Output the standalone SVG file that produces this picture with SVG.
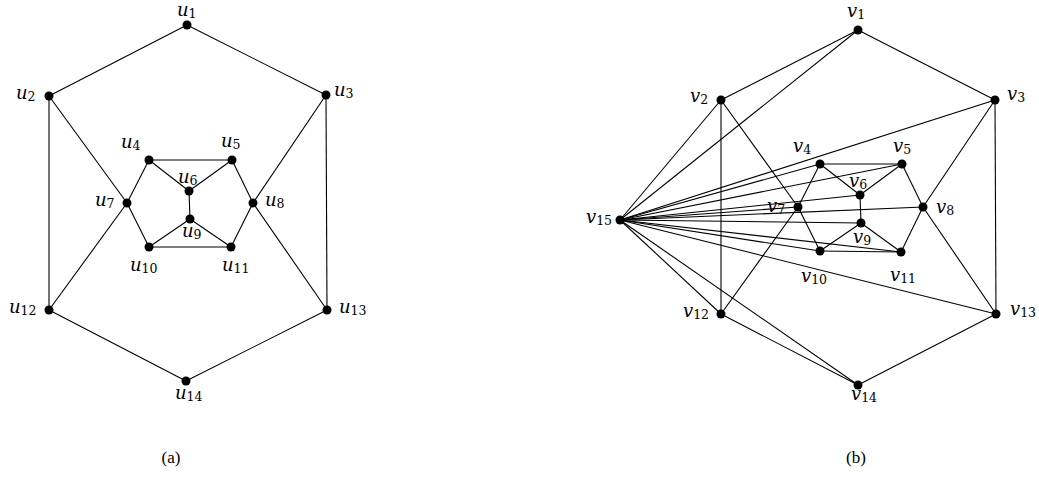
<svg xmlns="http://www.w3.org/2000/svg" width="1039" height="478" viewBox="0 0 1039 478">
<style>
.e line{stroke:#000;stroke-width:1.1;fill:none}
.n circle{fill:#000}
.n text{font-family:"DejaVu Serif","Liberation Serif",serif;font-style:italic;font-size:18px;fill:#000}
.n text tspan{font-style:normal;font-size:12.5px}
.cap{font-family:"Liberation Serif",serif;font-size:17px;fill:#000}
</style>
<rect width="1039" height="478" fill="#fff"/>
<g id="connectors-a" class="e">
<line x1="187" y1="25" x2="49" y2="96"/>
<line x1="187" y1="25" x2="326" y2="95"/>
<line x1="49" y1="96" x2="49" y2="310"/>
<line x1="49" y1="96" x2="127" y2="203"/>
<line x1="326" y1="95" x2="327" y2="310"/>
<line x1="326" y1="95" x2="253" y2="203"/>
<line x1="127" y1="203" x2="149" y2="160"/>
<line x1="127" y1="203" x2="149" y2="247"/>
<line x1="127" y1="203" x2="49" y2="310"/>
<line x1="253" y1="203" x2="232" y2="160"/>
<line x1="253" y1="203" x2="231" y2="247"/>
<line x1="253" y1="203" x2="327" y2="310"/>
<line x1="149" y1="160" x2="232" y2="160"/>
<line x1="149" y1="160" x2="189" y2="191"/>
<line x1="232" y1="160" x2="189" y2="191"/>
<line x1="189" y1="191" x2="190" y2="219"/>
<line x1="190" y1="219" x2="149" y2="247"/>
<line x1="190" y1="219" x2="231" y2="247"/>
<line x1="149" y1="247" x2="231" y2="247"/>
<line x1="49" y1="310" x2="186" y2="381"/>
<line x1="327" y1="310" x2="186" y2="381"/>
</g>
<g id="connectors-b" class="e">
<line x1="858" y1="30" x2="721" y2="100"/>
<line x1="858" y1="30" x2="995" y2="100"/>
<line x1="721" y1="100" x2="721" y2="314"/>
<line x1="721" y1="100" x2="798" y2="207"/>
<line x1="995" y1="100" x2="996" y2="314"/>
<line x1="995" y1="100" x2="923" y2="207"/>
<line x1="798" y1="207" x2="820" y2="164"/>
<line x1="798" y1="207" x2="820" y2="251"/>
<line x1="798" y1="207" x2="721" y2="314"/>
<line x1="923" y1="207" x2="902" y2="164"/>
<line x1="923" y1="207" x2="901" y2="252"/>
<line x1="923" y1="207" x2="996" y2="314"/>
<line x1="820" y1="164" x2="902" y2="164"/>
<line x1="820" y1="164" x2="860" y2="195"/>
<line x1="902" y1="164" x2="860" y2="195"/>
<line x1="860" y1="195" x2="861" y2="223"/>
<line x1="861" y1="223" x2="820" y2="251"/>
<line x1="861" y1="223" x2="901" y2="252"/>
<line x1="820" y1="251" x2="901" y2="252"/>
<line x1="721" y1="314" x2="858" y2="385"/>
<line x1="996" y1="314" x2="858" y2="385"/>
<line x1="620" y1="220" x2="858" y2="30"/>
<line x1="620" y1="220" x2="721" y2="100"/>
<line x1="620" y1="220" x2="995" y2="100"/>
<line x1="620" y1="220" x2="820" y2="164"/>
<line x1="620" y1="220" x2="902" y2="164"/>
<line x1="620" y1="220" x2="860" y2="195"/>
<line x1="620" y1="220" x2="798" y2="207"/>
<line x1="620" y1="220" x2="923" y2="207"/>
<line x1="620" y1="220" x2="861" y2="223"/>
<line x1="620" y1="220" x2="820" y2="251"/>
<line x1="620" y1="220" x2="901" y2="252"/>
<line x1="620" y1="220" x2="996" y2="314"/>
<line x1="620" y1="220" x2="721" y2="314"/>
<line x1="620" y1="220" x2="858" y2="385"/>
</g>
<g class="n">
<g id="u1"><circle cx="187" cy="25" r="4.5"/><text x="177" y="16">u<tspan dy="2">1</tspan></text></g>
<g id="u2"><circle cx="49" cy="96" r="4.5"/><text x="16" y="99">u<tspan dy="2">2</tspan></text></g>
<g id="u3"><circle cx="326" cy="95" r="4.5"/><text x="334" y="96">u<tspan dy="2">3</tspan></text></g>
<g id="u4"><circle cx="149" cy="160" r="4.5"/><text x="121" y="148">u<tspan dy="2">4</tspan></text></g>
<g id="u5"><circle cx="232" cy="160" r="4.5"/><text x="221" y="147">u<tspan dy="2">5</tspan></text></g>
<g id="u6"><circle cx="189" cy="191" r="4.5"/><text x="178" y="183">u<tspan dy="2">6</tspan></text></g>
<g id="u7"><circle cx="127" cy="203" r="4.5"/><text x="95" y="206">u<tspan dy="2">7</tspan></text></g>
<g id="u8"><circle cx="253" cy="203" r="4.5"/><text x="265" y="206">u<tspan dy="2">8</tspan></text></g>
<g id="u9"><circle cx="190" cy="219" r="4.5"/><text x="182" y="237">u<tspan dy="2">9</tspan></text></g>
<g id="u10"><circle cx="149" cy="247" r="4.5"/><text x="130" y="271">u<tspan dy="2">10</tspan></text></g>
<g id="u11"><circle cx="231" cy="247" r="4.5"/><text x="222" y="271">u<tspan dy="2">11</tspan></text></g>
<g id="u12"><circle cx="49" cy="310" r="4.5"/><text x="9" y="313">u<tspan dy="2">12</tspan></text></g>
<g id="u13"><circle cx="327" cy="310" r="4.5"/><text x="339" y="313">u<tspan dy="2">13</tspan></text></g>
<g id="u14"><circle cx="186" cy="381" r="4.5"/><text x="175" y="399">u<tspan dy="2">14</tspan></text></g>
<g id="v1"><circle cx="858" cy="30" r="4.5"/><text x="847" y="17">v<tspan dy="2">1</tspan></text></g>
<g id="v2"><circle cx="721" cy="100" r="4.5"/><text x="690" y="102">v<tspan dy="2">2</tspan></text></g>
<g id="v3"><circle cx="995" cy="100" r="4.5"/><text x="1007" y="100">v<tspan dy="2">3</tspan></text></g>
<g id="v4"><circle cx="820" cy="164" r="4.5"/><text x="793" y="152">v<tspan dy="2">4</tspan></text></g>
<g id="v5"><circle cx="902" cy="164" r="4.5"/><text x="893" y="152">v<tspan dy="2">5</tspan></text></g>
<g id="v6"><circle cx="860" cy="195" r="4.5"/><text x="849" y="187">v<tspan dy="2">6</tspan></text></g>
<g id="v7"><circle cx="798" cy="207" r="4.5"/><text x="767" y="212">v<tspan dy="2">7</tspan></text></g>
<g id="v8"><circle cx="923" cy="207" r="4.5"/><text x="936" y="213">v<tspan dy="2">8</tspan></text></g>
<g id="v9"><circle cx="861" cy="223" r="4.5"/><text x="853" y="243">v<tspan dy="2">9</tspan></text></g>
<g id="v10"><circle cx="820" cy="251" r="4.5"/><text x="801" y="282">v<tspan dy="2">10</tspan></text></g>
<g id="v11"><circle cx="901" cy="252" r="4.5"/><text x="890" y="281">v<tspan dy="2">11</tspan></text></g>
<g id="v12"><circle cx="721" cy="314" r="4.5"/><text x="683" y="317">v<tspan dy="2">12</tspan></text></g>
<g id="v13"><circle cx="996" cy="314" r="4.5"/><text x="1010" y="315">v<tspan dy="2">13</tspan></text></g>
<g id="v14"><circle cx="858" cy="385" r="4.5"/><text x="851" y="400">v<tspan dy="2">14</tspan></text></g>
<g id="v15"><circle cx="620" cy="220" r="4.5"/><text x="586" y="223">v<tspan dy="2">15</tspan></text></g>
</g>
<text class="cap" x="171" y="463" text-anchor="middle">(a)</text>
<text class="cap" x="856" y="463" text-anchor="middle">(b)</text>
</svg>
